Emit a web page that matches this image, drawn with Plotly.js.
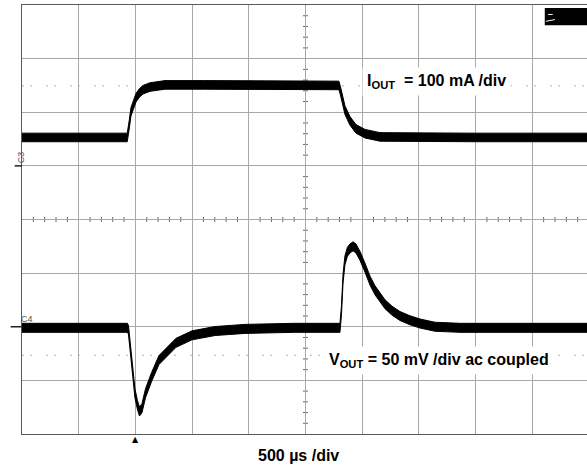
<!DOCTYPE html>
<html>
<head>
<meta charset="utf-8">
<script src="https://cdn.plot.ly/plotly-3.0.1.min.js"></script>
<style>
html,body{margin:0;padding:0;overflow:hidden;background:#fff;}
#chart{width:600px;height:465px;}
</style>
</head>
<body>
<div id="chart"></div>
<script>
// ---- data read from the scope capture (time in µs, 500 µs/div) ----
const tIout = [0, 928, 945, 961, 983, 1005, 1035, 1067, 1129, 1261, 1600, 2200, 2795, 2808, 2822, 2848, 2892, 2945, 3025, 3157, 4000, 5000];
const iout  = [53, 53, 76, 101, 114, 127, 136, 142, 147, 151, 151, 151, 150, 140, 129, 104, 84, 69, 60, 54, 53, 53]; // mA, 100 mA/div

const tVout = [0, 930, 939, 966, 996, 1018, 1036, 1058, 1089, 1142, 1208, 1358, 1499, 1702, 1966, 2400, 2804, 2817, 2831, 2848, 2870, 2892, 2919, 2945, 2981, 3025, 3069, 3113, 3157, 3201, 3263, 3333, 3422, 3510, 3642, 3862, 5000];
const vout  = [-1, -1, -3, -31, -62, -73, -79, -76, -62, -47, -31, -15, -8, -4, -2, -1, -1, 15, 45, 62, 70, 73, 75, 73, 66, 55, 43, 34, 27, 21, 15, 10, 6, 3, 0, -1, -1]; // mV, 50 mV/div, ac coupled

const ioutNoise = 8;   // mA, half width of the noisy trace band
const voutNoise = 4.2; // mV

const iLabel = "<b>I<sub>OUT</sub>  = 100 mA /div</b>";
const vLabel = "<b>V<sub>OUT</sub> = 50 mV /div ac coupled</b>";
const tLabel = "<b>500 µs /div</b>";

// ---- traces ----
function band(x, y, n, axis) {
  return [
    {x: x, y: y.map(v => v + n), yaxis: axis, mode: 'lines', line: {color: '#000', width: 1}, hoverinfo: 'skip', showlegend: false},
    {x: x, y: y.map(v => v - n), yaxis: axis, mode: 'lines', line: {color: '#000', width: 1}, fill: 'tonexty', fillcolor: '#000', hoverinfo: 'skip', showlegend: false}
  ];
}
const data = [].concat(band(tIout, iout, ioutNoise, 'y'), band(tVout, vout, voutNoise, 'y2'));

// ---- decorations ----
const shapes = [];
// centre cross lines (darker)
shapes.push({type: 'line', xref: 'paper', x0: 0, x1: 1, yref: 'y', y0: -100, y1: -100, line: {color: '#8c8c8c', width: 1}, layer: 'below'});
shapes.push({type: 'line', xref: 'x', x0: 2500, x1: 2500, yref: 'paper', y0: 0, y1: 1, line: {color: '#8c8c8c', width: 1}, layer: 'below'});
// minor ticks on centre lines
for (let t = 100; t < 5000; t += 100) {
  if (t % 500 === 0) continue;
  shapes.push({type: 'line', xref: 'x', x0: t, x1: t, yref: 'y', ysizemode: 'pixel', yanchor: -100, y0: -2.5, y1: 2.5, line: {color: '#666', width: 1}, layer: 'below'});
}
for (let v = -480; v < 300; v += 20) {
  if (v % 100 === 0) continue;
  shapes.push({type: 'line', xref: 'x', xsizemode: 'pixel', xanchor: 2500, x0: -2.5, x1: 2.5, yref: 'y', y0: v, y1: v, line: {color: '#666', width: 1}, layer: 'below'});
}
// dotted reference levels
shapes.push({type: 'line', xref: 'paper', x0: 0, x1: 1, yref: 'y', y0: 149, y1: 149, line: {color: '#c4c4c4', width: 1.2, dash: '2px,6px,2px,14px'}, layer: 'below'});
shapes.push({type: 'line', xref: 'paper', x0: 0, x1: 1, yref: 'y2', y0: -26.6, y1: -26.6, line: {color: '#c4c4c4', width: 1.2, dash: '2px,6px,2px,14px'}, layer: 'below'});
// channel ground markers
shapes.push({type: 'line', xref: 'paper', x0: -0.013, x1: 0, yref: 'y', y0: 0, y1: 0, line: {color: '#222', width: 1.5}});
shapes.push({type: 'line', xref: 'paper', x0: -0.02, x1: 0, yref: 'y2', y0: 0, y1: 0, line: {color: '#222', width: 1.5}});
// black status box, top right
shapes.push({type: 'rect', xref: 'paper', x0: 0.922, x1: 1.1, yref: 'paper', y0: 0.953, y1: 0.993, fillcolor: '#000', line: {width: 0}});
shapes.push({type: 'line', xref: 'paper', x0: 0.928, x1: 0.936, yref: 'paper', y0: 0.978, y1: 0.978, line: {color: '#fff', width: 1}});
shapes.push({type: 'line', xref: 'paper', x0: 0.924, x1: 0.94, yref: 'paper', y0: 0.962, y1: 0.966, line: {color: '#fff', width: 1}});

const annotations = [
  {text: iLabel, xref: 'x', yref: 'y', x: 3000, y: 157, xanchor: 'left', yanchor: 'middle', showarrow: false,
   font: {family: 'Liberation Sans, Arial, sans-serif', size: 16, color: '#000'}, bgcolor: '#fff', borderpad: 4},
  {text: vLabel, xref: 'x', yref: 'y2', x: 2660, y: -31, xanchor: 'left', yanchor: 'middle', showarrow: false,
   font: {family: 'Liberation Sans, Arial, sans-serif', size: 16, color: '#000'}, bgcolor: '#fff', borderpad: 4},
  {text: tLabel, xref: 'x', yref: 'paper', x: 2440, y: -0.05, xanchor: 'center', yanchor: 'middle', showarrow: false,
   font: {family: 'Liberation Sans, Arial, sans-serif', size: 16, color: '#000'}},
  {text: 'C3', xref: 'paper', yref: 'y', x: -0.014, y: 16, textangle: -90, showarrow: false,
   font: {family: 'Liberation Sans, Arial, sans-serif', size: 9, color: '#555'}},
  {text: 'C4', xref: 'paper', yref: 'y2', x: -0.006, y: 7, showarrow: false,
   font: {family: 'Liberation Sans, Arial, sans-serif', size: 9, color: '#555'}},
  {text: '▲', xref: 'x', yref: 'paper', x: 1000, y: -0.013, xanchor: 'center', yanchor: 'middle', showarrow: false,
   font: {family: 'DejaVu Sans, sans-serif', size: 8, color: '#000'}}
];

const layout = {
  width: 600, height: 465,
  margin: {l: 22, r: 11, t: 5, b: 31, pad: 0},
  paper_bgcolor: '#fff', plot_bgcolor: '#fff',
  showlegend: false,
  xaxis: {range: [0, 5000], tick0: 0, dtick: 500, showgrid: true, gridcolor: '#a8a8a8', gridwidth: 1,
          showticklabels: false, ticks: '', zeroline: false, showline: true, linecolor: '#5a5a5a', linewidth: 1, mirror: true, fixedrange: true},
  yaxis: {range: [-500, 300], tick0: 0, dtick: 100, showgrid: true, gridcolor: '#a8a8a8', gridwidth: 1,
          showticklabels: false, ticks: '', zeroline: false, showline: true, linecolor: '#5a5a5a', linewidth: 1, mirror: true, fixedrange: true},
  yaxis2: {range: [-100, 300], overlaying: 'y', showgrid: false, zeroline: false, showticklabels: false, ticks: '', showline: false, fixedrange: true},
  shapes: shapes,
  annotations: annotations
};

Plotly.newPlot('chart', data, layout, {staticPlot: true, displayModeBar: false});
</script>
</body>
</html>
